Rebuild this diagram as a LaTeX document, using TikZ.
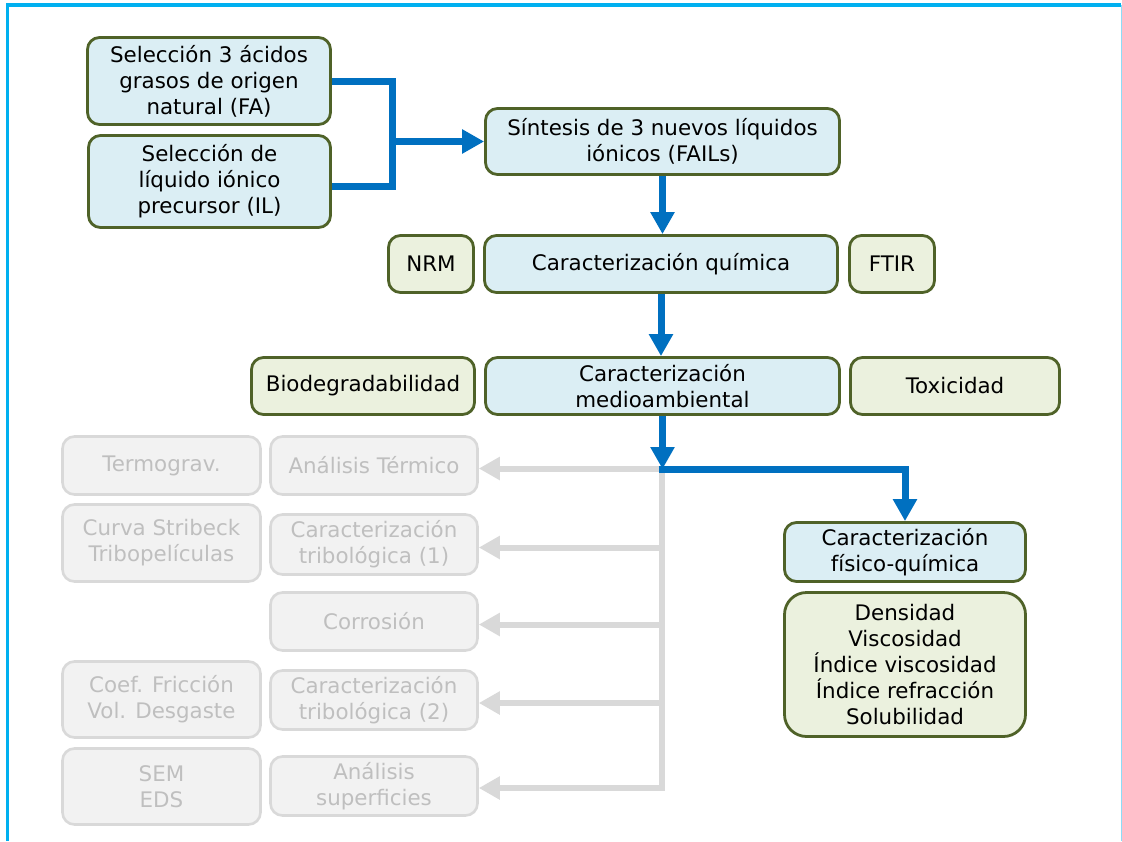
\documentclass[tikz,border=0pt]{standalone}
\usepackage{fontspec}
\setmainfont{DejaVu Sans}
\usetikzlibrary{arrows.meta}

\definecolor{frame}{HTML}{00B0F0}
\definecolor{flow}{HTML}{0070C0}
\definecolor{boxblue}{HTML}{DBEEF4}
\definecolor{boxgreen}{HTML}{EBF1DE}
\definecolor{olive}{HTML}{4F6228}
\definecolor{greyfill}{HTML}{F2F2F2}
\definecolor{greyline}{HTML}{D9D9D9}
\definecolor{greytext}{HTML}{BFBFBF}

\tikzset{
  box/.style={draw=olive, line width=2.8pt, rounded corners=12pt, align=center,
    inner sep=0pt, font=\fontsize{21.4}{26}\selectfont},
  stepblue/.style={box, fill=boxblue},
  stepgreen/.style={box, fill=boxgreen},
  faded/.style={box, draw=greyline, line width=2.6pt, fill=greyfill, text=greytext},
  flowline/.style={draw=flow, line width=7pt},
  flowarrow/.style={flowline, -{Triangle[length=22pt,width=23pt]}},
  fadedarrow/.style={draw=greyline, line width=6pt, -{Triangle[length=21pt,width=22pt]}},
}

\begin{document}
\begin{tikzpicture}[x=1pt,y=-1pt]
\useasboundingbox (0,0) rectangle (1122,841);
\fill[white] (0,0) rectangle (1122,841);

% outer frame
\draw[frame, line width=3.5pt] (7.5,841) -- (7.5,5) -- (1121,5);
\draw[frame!45, line width=1.2pt] (1121.2,5) -- (1121.2,841);

% main flow
\node[stepblue, minimum width=243pt, minimum height=87pt] (fa) at (209,81)
  {Selección 3 ácidos\\grasos de origen\\natural (FA)};
\node[stepblue, minimum width=242pt, minimum height=92pt] (il) at (209.5,181.5)
  {Selección de\\líquido iónico\\precursor (IL)};
\node[stepblue, minimum width=354pt, minimum height=66pt] (fails) at (662.5,141.5)
  {Síntesis de 3 nuevos líquidos\\iónicos (FAILs)};

\node[stepgreen, minimum width=85pt, minimum height=57pt] (nrm) at (431,264) {NRM};
\node[stepblue, minimum width=353pt, minimum height=57pt] (chem) at (661,264)
  {Caracterización química};
\node[stepgreen, minimum width=85pt, minimum height=57pt] (ftir) at (892,264) {FTIR};

\node[stepgreen, minimum width=223pt, minimum height=57pt] (bio) at (363,386)
  {Biodegradabilidad};
\node[stepblue, minimum width=354pt, minimum height=57pt] (env) at (662.5,386)
  {Caracterización\\medioambiental};
\node[stepgreen, minimum width=209pt, minimum height=57pt] (tox) at (955,386)
  {Toxicidad};

\node[stepblue, minimum width=241pt, minimum height=59pt] (fq) at (905,552)
  {Caracterización\\físico-química};
\node[stepgreen, rounded corners=22pt, minimum width=241pt, minimum height=144pt] (props)
  at (905,664.5)
  {Densidad\\Viscosidad\\Índice viscosidad\\Índice refracción\\Solubilidad};

% faded branch: techniques
\node[faded, minimum width=198pt, minimum height=58pt] (termo) at (161.5,465.5) {Termograv.};
\node[faded, minimum width=198pt, minimum height=77pt] (stribeck) at (161.5,543)
  {Curva Stribeck\\Tribopelículas};
\node[faded, minimum width=198pt, minimum height=76pt] (coef) at (161.5,699.5)
  {Coef. Fricción\\Vol. Desgaste};
\node[faded, minimum width=198pt, minimum height=76pt] (sem) at (161.5,786.5)
  {SEM\\EDS};

% faded branch: studies
\node[faded, minimum width=207pt, minimum height=58pt] (thermal) at (374,465.5)
  {Análisis Térmico};
\node[faded, minimum width=207pt, minimum height=60pt] (tribo1) at (374,544.5)
  {Caracterización\\tribológica (1)};
\node[faded, minimum width=207pt, minimum height=58pt] (corr) at (374,621.5)
  {Corrosión};
\node[faded, minimum width=207pt, minimum height=59pt] (tribo2) at (374,700)
  {Caracterización\\tribológica (2)};
\node[faded, minimum width=207pt, minimum height=59pt] (surf) at (374,786)
  {Análisis\\superficies};

% junctions
\coordinate (j) at (392,141.5);
\coordinate (ilport) at ([yshift=-4.5pt]il.east);
\coordinate (split) at (662,469);
\coordinate (t1) at ([yshift=-3pt]thermal.east);
\coordinate (t2) at ([yshift=-3pt]tribo1.east);
\coordinate (t3) at ([yshift=-3pt]corr.east);
\coordinate (t4) at ([yshift=-3pt]tribo2.east);
\coordinate (t5) at ([yshift=-2pt]surf.east);

% faded connectors
\draw[fadedarrow] (split) |- (t5);
\draw[fadedarrow] (split |- t1) -- (t1);
\draw[fadedarrow] (split |- t2) -- (t2);
\draw[fadedarrow] (split |- t3) -- (t3);
\draw[fadedarrow] (split |- t4) -- (t4);

% main connectors
\draw[flowline] (fa.east) -| (j) |- (ilport);
\draw[flowarrow] (j) -- (fails.west);
\draw[flowarrow] (fails.south) -- (fails.south |- chem.north);
\draw[flowarrow] (chem.south) -- (chem.south |- env.north);
\draw[flowarrow] (env.south) -- (env.south |- split);
\draw[flowarrow] ([xshift=-3.5pt]split) -| (fq.north);
\end{tikzpicture}
\end{document}
